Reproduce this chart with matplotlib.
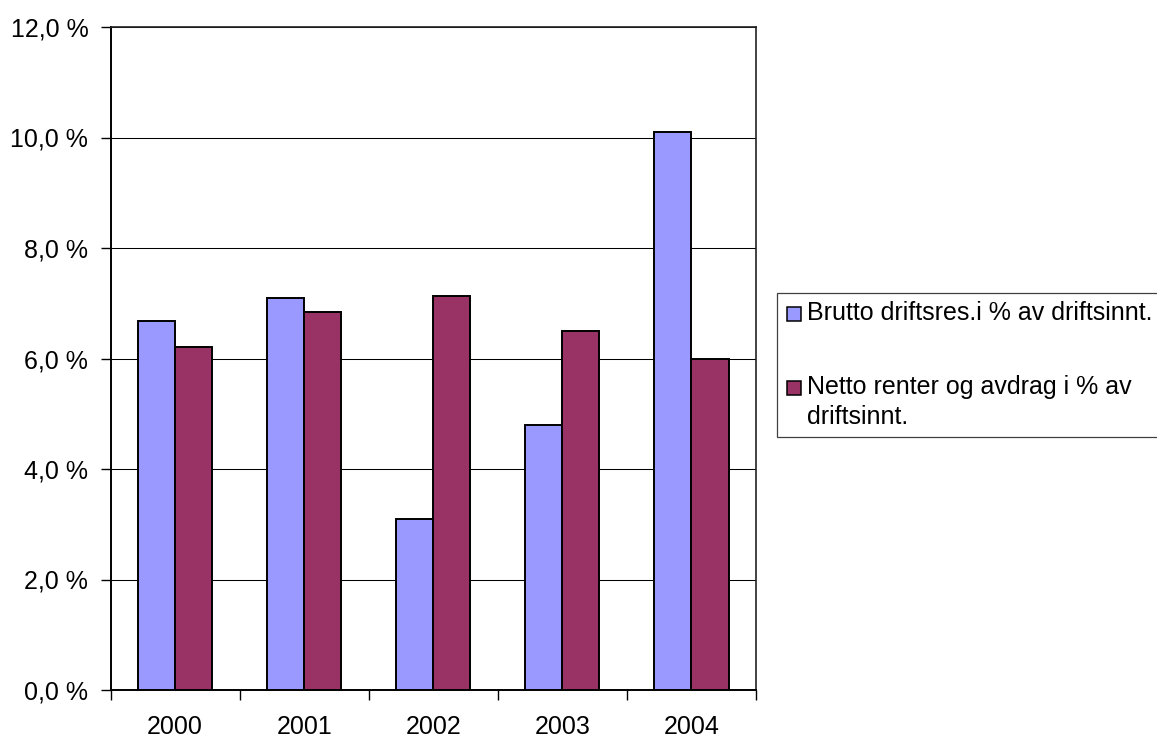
import matplotlib
matplotlib.use("Agg")
import matplotlib.pyplot as plt
import numpy as np
from matplotlib.patches import Rectangle
from matplotlib.ticker import FuncFormatter, MultipleLocator

plt.rcParams['font.family'] = ['Liberation Sans', 'DejaVu Sans']

# datos
years = ['2000', '2001', '2002', '2003', '2004']
brutto = [6.67, 7.10, 3.09, 4.80, 10.10]
netto = [6.21, 6.85, 7.14, 6.49, 6.00]
series_names = ['Brutto driftsres.i % av driftsinnt.',
                'Netto renter og avdrag i % av\ndriftsinnt.']
colors = ['#9999FF', '#993366']
fsize = 18

W, H = 1157, 738
fig = plt.figure(figsize=(W / 100, H / 100), dpi=100)
ax = fig.add_axes([110.5 / W, 1 - 690 / H, (756 - 110.5) / W, (690 - 27) / H])

x = np.arange(len(years))
bw = 0.287
for i, (vals, col) in enumerate(zip([brutto, netto], colors)):
    ax.bar(x + (i - 0.5) * bw, vals, bw, color=col, edgecolor='black',
           linewidth=1.4, zorder=3)

ax.set_xlim(-0.5, len(years) - 0.5)
ax.set_ylim(0, 12)
ax.yaxis.set_major_locator(MultipleLocator(2))
ax.yaxis.set_major_formatter(FuncFormatter(lambda v, p: f'{v:.1f} %'.replace('.', ',')))
ax.grid(axis='y', color='black', linewidth=0.75, zorder=0)
ax.set_axisbelow(True)

ax.set_xticks(x)
ax.set_xticklabels(years)
ax.set_xticks(np.arange(-0.5, len(years), 1), minor=True)
ax.tick_params(axis='x', which='major', length=0, pad=18, labelsize=fsize)
ax.tick_params(axis='x', which='minor', length=7, width=1, direction='out')
ax.tick_params(axis='y', length=7, width=1, direction='out', pad=9, labelsize=fsize)

for s in ['left', 'bottom']:
    ax.spines[s].set_color('black')
    ax.spines[s].set_linewidth(1.4)
for s in ['top', 'right']:
    ax.spines[s].set_color('#222222')
    ax.spines[s].set_linewidth(1.2)

# leyenda hecha a mano (para alinear el cuadro con la primera linea)
def fx(px):
    return px / W

def fy(py):
    return 1 - py / H

fig.patches.append(Rectangle((fx(776.7), fy(436.7)), fx(1170) - fx(776.7),
                             fy(292.7) - fy(436.7), transform=fig.transFigure,
                             facecolor='white', edgecolor='#404040', linewidth=0.9))
centers = [314, 387.5]
for name, col, cy in zip(series_names, colors, centers):
    fig.patches.append(Rectangle((fx(786.7), fy(cy + 7)), fx(14), 14 / H,
                                 transform=fig.transFigure, facecolor=col,
                                 edgecolor='black', linewidth=1.1))
    for k, line in enumerate(name.split('\n')):
        fig.text(fx(807), fy(cy - 1 + k * 30), line, fontsize=fsize,
                 va='center', ha='left')

fig.savefig('out.png', dpi=100)
